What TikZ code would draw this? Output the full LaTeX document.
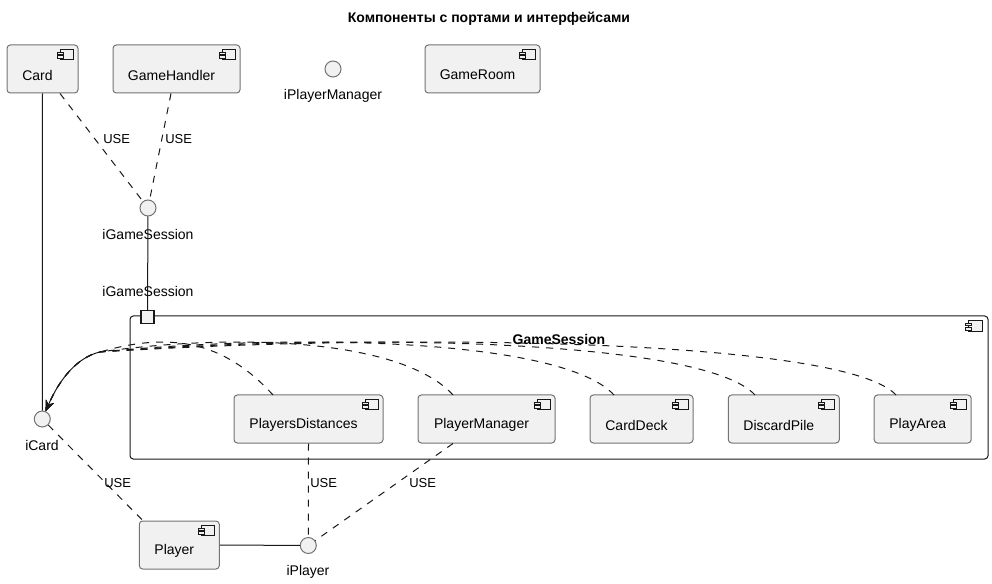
\documentclass[tikz,border=0pt]{standalone}
\usepackage{fontspec}
\setmainfont{Liberation Sans}
\usetikzlibrary{calc,arrows.meta}
\definecolor{boxfill}{HTML}{F1F1F1}
\definecolor{edge}{HTML}{181818}
\tikzset{
  comp/.style={draw=black!55, fill=boxfill, line width=0.75pt, rounded corners=2.5pt,
    minimum height=36pt, inner sep=0pt},
  cont/.style={draw=edge, line width=0.75pt, rounded corners=2.5pt, inner sep=0pt},
  txt/.style={font=\fontsize{10.5}{12}\selectfont, inner sep=0pt},
  boldtxt/.style={font=\bfseries\fontsize{10.5}{12}\selectfont, inner sep=0pt},
  usetxt/.style={font=\fontsize{9.75}{11}\selectfont, inner sep=0pt},
  iface/.style={circle, draw=black!55, fill=boxfill, line width=0.75pt, minimum size=12pt, inner sep=0pt},
  portbox/.style={draw=edge, fill=boxfill, line width=1.1pt, minimum size=9.5pt, inner sep=0pt},
  icon/.style={draw=edge, line width=0.5pt, fill=boxfill},
  usedash/.style={draw=edge, line width=0.75pt, dash pattern=on 5.25pt off 5.25pt},
  solidln/.style={draw=edge, line width=0.75pt},
  tip/.style={-{Stealth[length=8pt,width=6.5pt]}}
}
\newcommand{\cmpicon}[1]{%
  \draw[icon] ($(#1.north east)+(-18,5)$) rectangle ($(#1.north east)+(-5,15)$);
  \draw[icon] ($(#1.north east)+(-21,7.5)$) rectangle ($(#1.north east)+(-15,10)$);
  \draw[icon] ($(#1.north east)+(-21,11)$) rectangle ($(#1.north east)+(-15,13.5)$);}
\begin{document}
\begin{tikzpicture}[x=0.75pt,y=-0.75pt]
\useasboundingbox (0,0) rectangle (992,584);
% title
\node[boldtxt] (title) at (489,19) {Компоненты с портами и интерфейсами};
% top row
\node[comp, minimum width=71*0.75pt] (card) at (42.5,69) {};
\node[txt] (cardt) at ($(card.center)+(-5,6)$) {Card};
\cmpicon{card}
\node[comp, minimum width=127*0.75pt] (gh) at (176.5,69) {};
\node[txt] (ght) at ($(gh.center)+(-5,6)$) {GameHandler};
\cmpicon{gh}
\node[iface] (ipm) at (333,69) {};
\node[txt] (ipmt) at (333,96) {iPlayerManager};
\node[comp, minimum width=115*0.75pt] (gr) at (482.5,69) {};
\node[txt] (grt) at ($(gr.center)+(-5,6)$) {GameRoom};
\cmpicon{gr}
% iGameSession
\node[iface] (igs) at (148,208) {};
\node[txt] (igst) at (148,234) {iGameSession};
% container
\node[cont, minimum width=858*0.75pt, minimum height=143*0.75pt] (gs) at (559,387.5) {};
\node[boldtxt] (gst) at (559,339) {GameSession};
\draw[icon] ($(gs.north east)+(-20,5)$) rectangle ($(gs.north east)+(-6,16)$);
\draw[icon] ($(gs.north east)+(-23,7.5)$) rectangle ($(gs.north east)+(-17,10)$);
\draw[icon] ($(gs.north east)+(-23,12)$) rectangle ($(gs.north east)+(-17,14.5)$);
\node[portbox] (port) at (147.5,317) {};
\node[txt] (portt) at (148,291) {iGameSession};
% inner components
\node[comp, minimum width=149*0.75pt] (pd) at (308.5,419) {};
\node[txt] (pdt) at ($(pd.center)+(-5,6)$) {PlayersDistances};
\cmpicon{pd}
\node[comp, minimum width=137*0.75pt] (pm) at (486.5,419) {};
\node[txt] (pmt) at ($(pm.center)+(-5,6)$) {PlayerManager};
\cmpicon{pm}
\node[comp, minimum width=103*0.75pt] (cd) at (641.5,419) {};
\node[txt] (cdt) at ($(cd.center)+(-5,6)$) {CardDeck};
\cmpicon{cd}
\node[comp, minimum width=111*0.75pt] (dp) at (783.8,419) {};
\node[txt] (dpt) at ($(dp.center)+(-5,6)$) {DiscardPile};
\cmpicon{dp}
\node[comp, minimum width=97*0.75pt] (pa) at (922.7,419) {};
\node[txt] (pat) at ($(pa.center)+(-5,6)$) {PlayArea};
\cmpicon{pa}
% iCard, Player, iPlayer
\node[iface] (icard) at (42.3,419) {};
\node[txt] (icardt) at (42,445) {iCard};
\node[comp, minimum width=80*0.75pt] (pl) at (179.3,545) {};
\node[txt] (plt) at ($(pl.center)+(-5,6)$) {Player};
\cmpicon{pl}
\node[iface] (ipl) at (308.3,545.5) {};
\node[txt] (iplt) at (308,572) {iPlayer};
% connectors
\draw[solidln] (card.south) -- (icard);
\draw[usedash] ($(card.south)+(17.5,0)$) -- (igs);
\draw[usedash] ($(gh.south)+(-5.5,0)$) -- (igs);
\node[usetxt, anchor=west] (u1) at (103,139) {USE};
\node[usetxt, anchor=west] (u2) at (165,139) {USE};
\draw[solidln] (igs) -- (port);
% curves to iCard
\foreach \n/\xs in {pa/896, dp/755, cd/614, pm/453, pd/273}{
  \draw[usedash, tip] (\xs,395) .. controls ({\xs-50},340) and ({\xs-0.6*(\xs-100)},332) .. (100,352)
     .. controls (78,357) and (60,378) .. (icard);
}
\draw[usedash] (icard) -- ($(pl.north west)+(4,0)$);
\node[usetxt, anchor=west] (u3) at (104,483) {USE};
\draw[usedash] (pd.south) -- (ipl);
\node[usetxt, anchor=west] (u4) at (310,483) {USE};
\draw[usedash] ($(pm.south)+(-33.5,0)$) -- (ipl);
\node[usetxt, anchor=west] (u5) at (409,483) {USE};
\draw[solidln] (pl.east) -- (ipl);
\end{tikzpicture}
\end{document}
